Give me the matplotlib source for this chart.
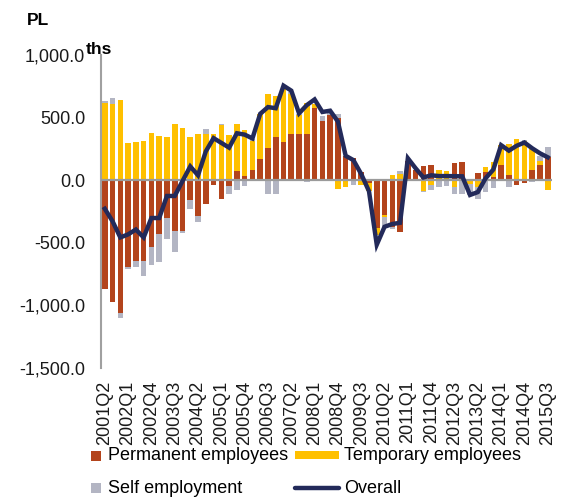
import matplotlib
matplotlib.use('Agg')
import matplotlib.pyplot as plt
import numpy as np
from matplotlib.patches import Rectangle
from matplotlib.lines import Line2D

plt.rcParams['font.family'] = ['Liberation Sans', 'DejaVu Sans']

quarters = ["2001Q2", "2001Q3", "2001Q4",
            "2002Q1", "2002Q2", "2002Q3", "2002Q4",
            "2003Q1", "2003Q2", "2003Q3", "2003Q4",
            "2004Q1", "2004Q2", "2004Q3", "2004Q4",
            "2005Q1", "2005Q2", "2005Q3", "2005Q4",
            "2006Q1", "2006Q2", "2006Q3", "2006Q4",
            "2007Q1", "2007Q2", "2007Q3", "2007Q4",
            "2008Q1", "2008Q2", "2008Q3", "2008Q4",
            "2009Q1", "2009Q2", "2009Q3", "2009Q4",
            "2010Q1", "2010Q2", "2010Q3", "2010Q4",
            "2011Q1", "2011Q2", "2011Q3", "2011Q4",
            "2012Q1", "2012Q2", "2012Q3", "2012Q4",
            "2013Q1", "2013Q2", "2013Q3", "2013Q4",
            "2014Q1", "2014Q2", "2014Q3", "2014Q4",
            "2015Q1", "2015Q2", "2015Q3"]

permanent = [-866, -970, -1063, -695, -643, -643, -533, -428, -302, -407,
             -409, -161, -287, -187, -35, -148, -43, 75, 35, 85,
             172, 258, 345, 303, 368, 366, 366, 573, 474, 521,
             494, 193, 179, 67, -20, -384, -279, -371, -416, 150,
             85, 110, 118, 10, 0, 136, 144, -10, 58, 66,
             26, 118, 39, -35, -26, 79, 118, 183]

temporary = [615, 612, 643, 294, 307, 315, 380, 354, 349, 446,
             415, 342, 371, 371, 371, 437, 364, 372, 368, 226,
             360, 433, 328, 430, 320, 155, 254, 33, 0, 0,
             -68, -52, 0, -37, -68, -53, -13, 40, 49, 0,
             0, -86, -35, 74, 71, -52, 0, -20, -52, 39,
             118, 162, 254, 327, 310, 170, 39, -82]

self_employment = [15, 44, -34, -16, -52, -123, -144, -223, -171, -165,
                   -13, -73, -45, 39, 0, 8, -66, -77, -43, 21,
                   0, -109, -109, 15, 15, 10, -15, 0, 41, 13,
                   32, 0, -40, 0, 0, 0, -92, -21, 26, 0,
                   0, -10, -40, -55, -47, -60, -113, -90, -100, -92,
                   -60, 0, -52, 0, 10, -13, 39, 82]

overall = [-228, -328, -457, -433, -394, -457, -302, -302, -126, -126,
           -7, 110, 39, 230, 336, 298, 260, 375, 364, 334,
           530, 584, 575, 755, 715, 534, 600, 645, 545, 555,
           468, 195, 160, 49, -88, -515, -372, -350, -340, 175,
           95, 22, 39, 33, 33, 32, 31, -118, -95, 15,
           85, 280, 236, 275, 301, 255, 215, 183]

series_names = ["Permanent employees", "Temporary employees", "Self employment"]
colors = ["#B3441C", "#FFC000", "#B3B5C3"]
line_color = "#232A5A"

W, H = 561, 498
fig = plt.figure(figsize=(W / 100, H / 100), dpi=100)
ax = fig.add_axes([100.5 / W, 1 - 368 / H, (552 - 100.5) / W, (368 - 55) / H])

x = np.arange(len(quarters))
pos_bottom = np.zeros(len(x))
neg_bottom = np.zeros(len(x))
for vals, col in zip([permanent, temporary, self_employment], colors):
    v = np.array(vals, dtype=float)
    bottom = np.where(v >= 0, pos_bottom, neg_bottom)
    ax.bar(x, v, width=0.72, bottom=bottom, color=col, linewidth=0, zorder=2)
    pos_bottom += np.clip(v, 0, None)
    neg_bottom += np.clip(v, None, 0)

ax.axhline(0, color="#9A9A9A", lw=1.6, zorder=3)
ax.plot(x, overall, color=line_color, lw=3.2, zorder=4, solid_joinstyle='miter')

ax.set_xlim(-0.55, len(x) - 0.45)
ax.set_ylim(-1500, 1000)
ax.set_yticks([1000, 500, 0, -500, -1000, -1500])
ax.set_yticklabels(["1,000.0", "500.0", "0.0", "-500.0", "-1,000.0", "-1,500.0"])
ax.set_xticks(x[::3])
ax.set_xticklabels(quarters[::3], rotation=90)
ax.tick_params(axis='y', length=0, pad=11, labelsize=13, colors="#1a1a1a")
ax.tick_params(axis='x', length=0, pad=9, labelsize=13, colors="#1a1a1a")

for s in ["top", "right", "bottom"]:
    ax.spines[s].set_visible(False)
ax.spines["left"].set_color("#A0A0A0")
ax.spines["left"].set_linewidth(1.5)

fig.text(27 / W, 1 - 20 / H, "PL", fontsize=12.5, fontweight="bold", va="center", ha="left")
fig.text(86 / W, 1 - 50 / H, "ths", fontsize=12.5, fontweight="bold", va="center", ha="left")

# legend
def fy(py):
    return 1 - py / H

fig.add_artist(Rectangle((91 / W, fy(461)), 10 / W, 10 / H, transform=fig.transFigure,
                         facecolor=colors[0], edgecolor="none"))
fig.text(108 / W, fy(456), series_names[0], fontsize=13, va="center", ha="left")
fig.add_artist(Rectangle((295 / W, fy(459)), 44 / W, 8 / H, transform=fig.transFigure,
                         facecolor=colors[1], edgecolor="none"))
fig.text(344 / W, fy(456), series_names[1], fontsize=13, va="center", ha="left")
fig.add_artist(Rectangle((91 / W, fy(493)), 10 / W, 10 / H, transform=fig.transFigure,
                         facecolor=colors[2], edgecolor="none"))
fig.text(108 / W, fy(488), series_names[2], fontsize=13, va="center", ha="left")
fig.add_artist(Line2D([295 / W, 339 / W], [fy(488), fy(488)], transform=fig.transFigure,
                      color=line_color, lw=3.2, solid_capstyle="round"))
fig.text(344 / W, fy(488), "Overall", fontsize=13, va="center", ha="left")

fig.savefig("out.png", dpi=100)
